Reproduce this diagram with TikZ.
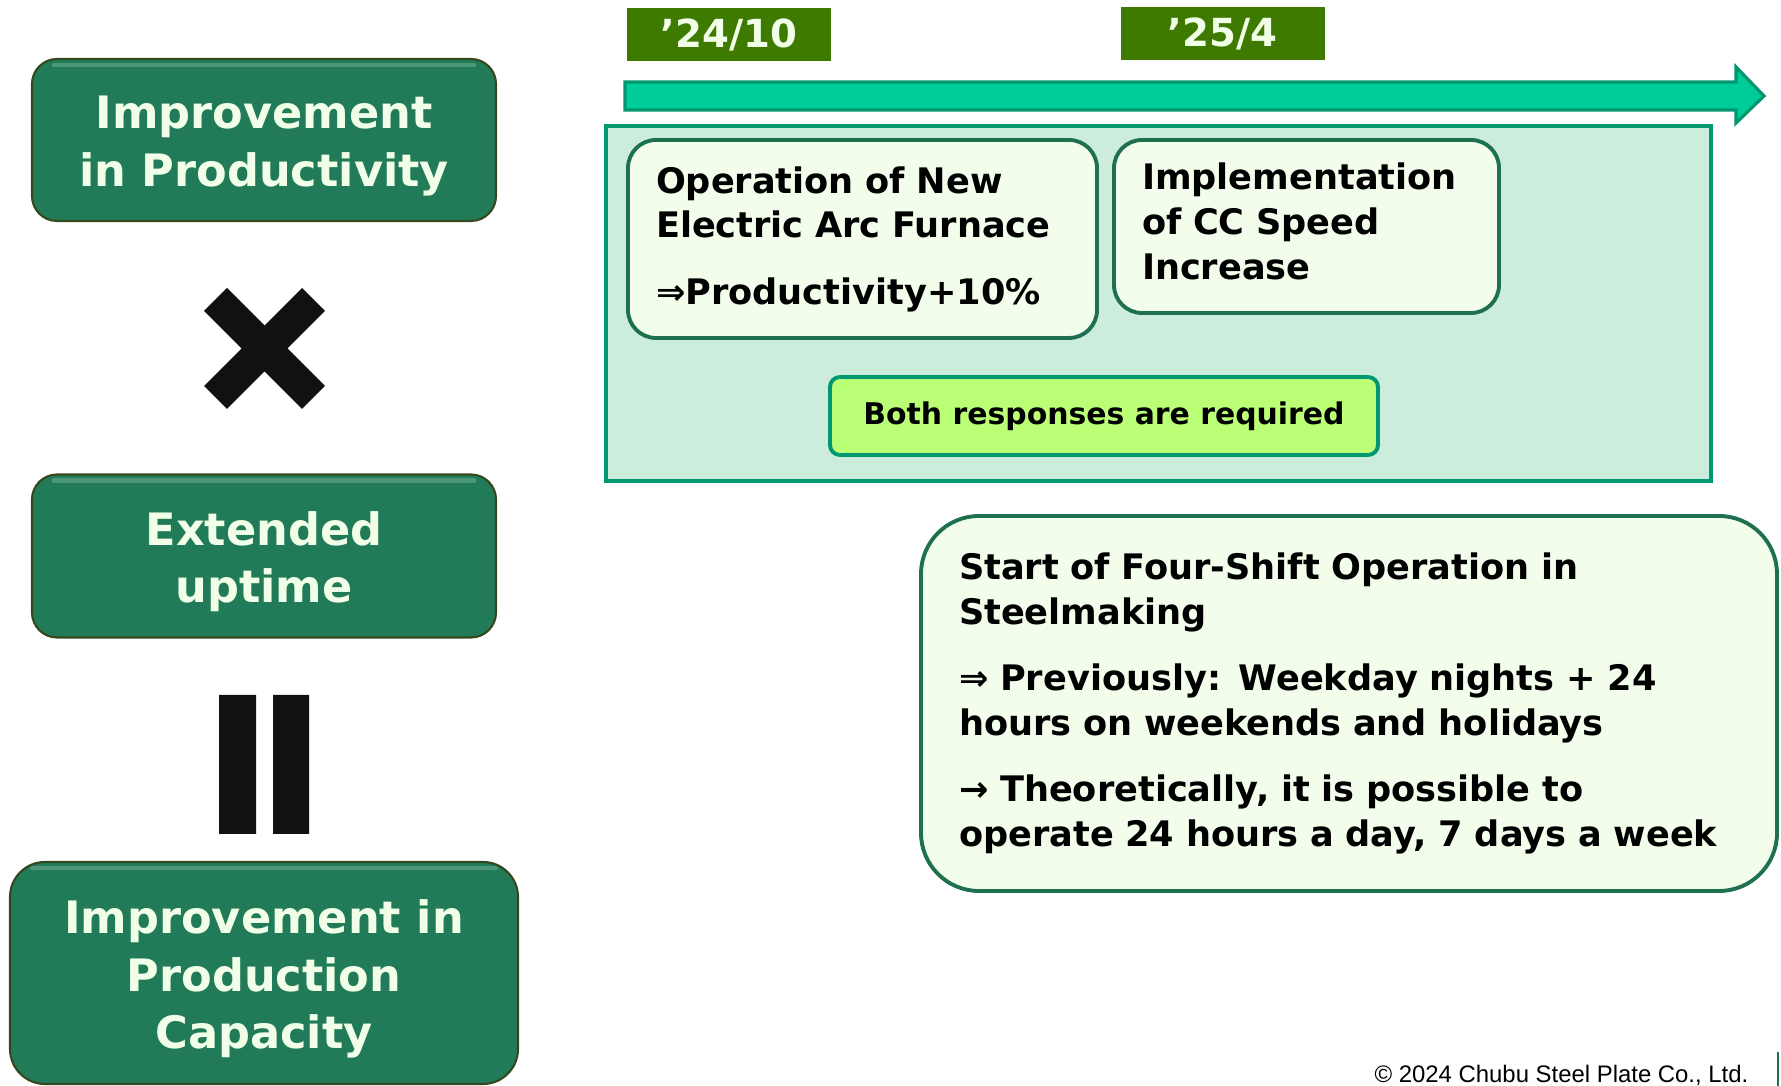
\documentclass[tikz,border=0pt]{standalone}
\usepackage{fontspec}
\setmainfont{DejaVu Sans}
\newfontfamily\copyfont{Liberation Sans}

\definecolor{boxgreen}{RGB}{33,123,88}
\definecolor{boxedge}{RGB}{52,72,30}
\definecolor{cream}{RGB}{242,255,232}
\definecolor{dategreen}{RGB}{63,122,0}
\definecolor{arrowfill}{RGB}{0,204,153}
\definecolor{arrowedge}{RGB}{0,150,110}
\definecolor{panelfill}{RGB}{204,237,220}
\definecolor{paneledge}{RGB}{0,152,112}
\definecolor{notefill}{RGB}{242,253,235}
\definecolor{noteedge}{RGB}{30,112,80}
\definecolor{limefill}{RGB}{187,255,119}
\definecolor{signblack}{RGB}{17,17,17}

\tikzset{
  factorbox/.style={rounded corners=0.25cm, fill=boxgreen, draw=boxedge, line width=0.6pt,
    minimum width=4.64cm, minimum height=1.62cm,
    path picture={\draw[white!25!boxgreen, line width=1.2pt, line cap=round, opacity=0.8]
      ([xshift=0.22cm,yshift=-0.06cm]path picture bounding box.north west) --
      ([xshift=-0.22cm,yshift=-0.06cm]path picture bounding box.north east);}},
  factortext/.style={text=cream, font=\bfseries\fontsize{12.7}{16.3}\selectfont, align=center,
    inner sep=0pt},
  sign/.style={signblack, line width=0.325cm},
  datebox/.style={fill=dategreen, text=cream, font=\bfseries\fontsize{11}{13}\selectfont,
    minimum width=2.04cm, minimum height=0.53cm, inner sep=0pt},
  timeline/.style={fill=arrowfill, draw=arrowedge, line width=0.9pt},
  panelbox/.style={fill=panelfill, draw=paneledge, line width=0.9pt},
  notebox/.style={rounded corners=0.28cm, fill=notefill, draw=noteedge, line width=1.1pt,
    font=\bfseries\fontsize{10}{12.8}\selectfont, align=left, inner xsep=0.28cm, inner ysep=0pt},
  needbox/.style={rounded corners=0.1cm, fill=limefill, draw=paneledge, line width=1.1pt,
    font=\bfseries\fontsize{8.5}{10}\selectfont}
}

\begin{document}
\begin{tikzpicture}
  \useasboundingbox (0,0) rectangle (17.81,10.86);

  % productivity x uptime = capacity
  \node[factorbox] (productivity) at (2.64,9.46) {};
  \node[factortext] (productivity-text) at ([yshift=-0.06cm]productivity) {Improvement\\in Productivity};
  \draw[sign] (2.155,7.865) -- (3.135,6.885) (3.135,7.865) -- (2.155,6.885);
  \node[factorbox, minimum height=1.63cm] (uptime) at (2.64,5.30) {};
  \node[factortext] (uptime-text) at ([yshift=-0.06cm]uptime) {Extended\\uptime};
  \fill[signblack] (2.19,3.91) rectangle (2.56,2.52) (2.73,3.91) rectangle (3.09,2.52);
  \node[factorbox, minimum width=5.08cm, minimum height=2.22cm, rounded corners=0.35cm]
    (capacity) at (2.64,1.13) {};
  \node[factortext] (capacity-text) at ([yshift=-0.06cm]capacity) {Improvement in\\Production\\Capacity};

  % time axis
  \node[datebox] (oct24) at (7.29,10.515) {’24/10};
  \node[datebox] (apr25) at (12.225,10.525) {’25/4};
  \draw[timeline] (6.25,10.04) -- (17.36,10.04) -- (17.36,10.19) -- (17.64,9.90)
    -- (17.36,9.63) -- (17.36,9.76) -- (6.25,9.76) -- cycle;

  % measures needed together
  \node[panelbox, minimum width=11.05cm, minimum height=3.55cm] (both-panel) at (11.585,7.825) {};
  \node[notebox, text width=4.13cm, minimum height=1.98cm] (furnace) at (8.625,8.47)
    {Operation of New\\Electric Arc Furnace\\[6pt]⇒Productivity+10\%};
  \node[notebox, text width=3.29cm, minimum height=1.73cm] (cc-speed) at (13.065,8.595)
    {Implementation\\of CC Speed\\Increase\rule[-3pt]{0pt}{0pt}};
  \node[needbox, minimum width=5.48cm, minimum height=0.78cm] (required) at (11.04,6.70)
    {Both responses are required};

  % shift system
  \node[notebox, rounded corners=0.58cm, text width=7.8cm, inner xsep=0.38cm, minimum height=3.75cm]
    (four-shift) at (13.49,3.825)
    {Start of Four-Shift Operation in\\Steelmaking\\[6pt]⇒ Previously: Weekday nights + 24\\hours on weekends and holidays\\[6pt]→ Theoretically, it is possible to\\operate 24 hours a day, 7 days a week};

  \node[anchor=base east, font=\copyfont\fontsize{6.8}{8}\selectfont, inner sep=0pt]
    (copyright) at (17.49,0.03) {© 2024 Chubu Steel Plate Co., Ltd.};
  \draw[noteedge, line width=0.6pt] (17.78,0.34) -- (17.78,0);
\end{tikzpicture}
\end{document}
